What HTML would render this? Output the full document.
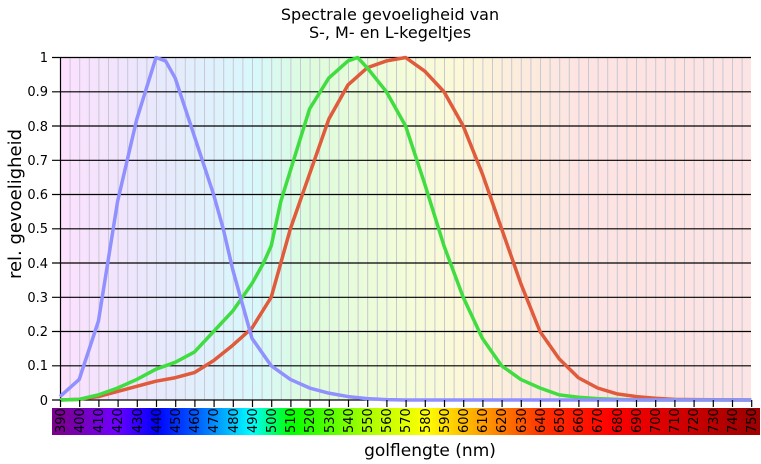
<!DOCTYPE html>
<html><head><meta charset="utf-8"><style>
body{margin:0;background:#fff}
svg{display:block;font-family:"DejaVu Sans","Liberation Sans",sans-serif}
</style></head><body>
<svg width="761" height="464" viewBox="0 0 761 464">
<defs>
<linearGradient id="bg" x1="60" x2="751" y1="0" y2="0" gradientUnits="userSpaceOnUse">
<stop offset="0" stop-color="#fde0fd"/>
<stop offset="0.14" stop-color="#e8e8fc"/>
<stop offset="0.28" stop-color="#d8f8fc"/>
<stop offset="0.36" stop-color="#dcfcdc"/>
<stop offset="0.5" stop-color="#f4fcd8"/>
<stop offset="0.58" stop-color="#fcf8d8"/>
<stop offset="0.66" stop-color="#fcecdc"/>
<stop offset="0.75" stop-color="#fde4e2"/>
<stop offset="1" stop-color="#fde4e4"/>
</linearGradient>
<linearGradient id="cb" x1="60" x2="751" y1="0" y2="0" gradientUnits="userSpaceOnUse">
<stop offset="0" stop-color="#7a0090"/>
<stop offset="0.08" stop-color="#7000ff"/>
<stop offset="0.139" stop-color="#0000ff"/>
<stop offset="0.2" stop-color="#0060ff"/>
<stop offset="0.278" stop-color="#00ffff"/>
<stop offset="0.333" stop-color="#00ff00"/>
<stop offset="0.45" stop-color="#b0ff00"/>
<stop offset="0.53" stop-color="#ffff00"/>
<stop offset="0.61" stop-color="#ffa000"/>
<stop offset="0.7" stop-color="#ff3000"/>
<stop offset="0.8" stop-color="#ff0000"/>
<stop offset="1" stop-color="#a00000"/>
</linearGradient>
</defs>
<text x="390" y="20" font-size="16" text-anchor="middle">Spectrale gevoeligheid van</text>
<text x="390" y="38" font-size="16" text-anchor="middle">S-, M- en L-kegeltjes</text>
<rect x="60" y="57" width="691" height="343" fill="url(#bg)"/>
<g transform="translate(60.5,0)" stroke="#c8c8d4">
<path d="M9.6 57V400M19.2 57V400M28.8 57V400M38.4 57V400M48 57V400M57.6 57V400M67.2 57V400M76.8 57V400M86.4 57V400M96 57V400M105.6 57V400M115.2 57V400M124.8 57V400M134.4 57V400M144 57V400M153.6 57V400M163.2 57V400M172.8 57V400M182.4 57V400M192 57V400M201.6 57V400M211.2 57V400M220.8 57V400M230.4 57V400M240 57V400M249.6 57V400M259.2 57V400M268.8 57V400M278.4 57V400M288 57V400M297.6 57V400M307.2 57V400M316.8 57V400M326.4 57V400M336 57V400M345.6 57V400M355.2 57V400M364.8 57V400M374.4 57V400M384 57V400M393.6 57V400M403.2 57V400M412.8 57V400M422.4 57V400M432 57V400M441.6 57V400M451.2 57V400M460.8 57V400M470.4 57V400M480 57V400M489.6 57V400M499.2 57V400M508.8 57V400M518.4 57V400M528 57V400M537.6 57V400M547.2 57V400M556.8 57V400M566.4 57V400M576 57V400M585.6 57V400M595.2 57V400M604.8 57V400M614.4 57V400M624 57V400M633.6 57V400M643.2 57V400M652.8 57V400M662.4 57V400M672 57V400M681.6 57V400"/>
</g>
<g stroke="#000" stroke-width="1.2">
<path d="M52 57.5H751M52 91.8H751M52 126H751M52 160.3H751M52 194.5H751M52 228.8H751M52 263H751M52 297.3H751M52 331.5H751M52 365.8H751M52 400H751M60.5 57V400"/>
</g>
<g font-size="13" text-anchor="end">
<text x="48" y="62">1</text><text x="48" y="96">0.9</text><text x="48" y="131">0.8</text><text x="48" y="165">0.7</text><text x="48" y="199">0.6</text><text x="48" y="233">0.5</text><text x="48" y="268">0.4</text><text x="48" y="302">0.3</text><text x="48" y="336">0.2</text><text x="48" y="370">0.1</text><text x="48" y="405">0</text>
</g>
<text transform="translate(21,204) rotate(-90)" font-size="18" text-anchor="middle">rel. gevoeligheid</text>
<g transform="translate(60,400) scale(1.92,-3.425)" fill="none" stroke-width="3.5" stroke-linejoin="round">
<polyline vector-effect="non-scaling-stroke" stroke="#e05a3c" points="0,0 10,0.2 20,1 30,2.5 40,4 50,5.5 60,6.5 70,8 80,11.5 90,16 100,21 110,30 115,40 120,50 125,58 130,66 140,82 150,92 160,97 170,99 180,100 190,96 200,90 210,80 220,66 230,50 240,34 250,20 260,12 270,6.5 280,3.5 290,1.8 300,1 310,0.5 320,0.2 330,0.1 360,0"/>
<polyline vector-effect="non-scaling-stroke" stroke="#40dd40" points="0,0 10,0.2 20,1.5 30,3.5 40,6 50,9 60,11 70,14 80,20 90,26 100,34 106,40 110,45 115,58 120,67 130,85 140,94 150,99 155,100 160,97 170,90 180,80 190,63 200,45 210,30 220,18 230,10 240,6 250,3.5 260,1.5 270,0.8 280,0.4 290,0.2 300,0 360,0"/>
<polyline vector-effect="non-scaling-stroke" stroke="#9090ff" points="0,1 10,6 20,23 30,58 40,82 50,100 55,99 60,94 70,77 80,60 85,50 90,38 100,18 110,10 120,6 130,3.5 140,2 150,1 160,0.4 170,0.1 180,0 360,0"/>
</g>
<rect x="52" y="408" width="708" height="27" fill="url(#cb)"/>
<g stroke="#000" stroke-width="1.2">
<path d="M60.5 400V407M79.7 400V407M98.9 400V407M118.1 400V407M137.3 400V407M156.5 400V407M175.7 400V407M194.9 400V407M214.1 400V407M233.3 400V407M252.5 400V407M271.7 400V407M290.9 400V407M310.1 400V407M329.3 400V407M348.5 400V407M367.7 400V407M386.9 400V407M406.1 400V407M425.3 400V407M444.5 400V407M463.7 400V407M482.9 400V407M502.1 400V407M521.3 400V407M540.5 400V407M559.7 400V407M578.9 400V407M598.1 400V407M617.3 400V407M636.5 400V407M655.7 400V407M674.9 400V407M694.1 400V407M713.3 400V407M732.5 400V407M751.7 400V407"/>
</g>
<g font-size="13" fill="#000">
<text transform="translate(65,433) rotate(-90)">390</text>
<text transform="translate(84,433) rotate(-90)">400</text>
<text transform="translate(103,433) rotate(-90)">410</text>
<text transform="translate(122,433) rotate(-90)">420</text>
<text transform="translate(142,433) rotate(-90)">430</text>
<text transform="translate(161,433) rotate(-90)">440</text>
<text transform="translate(180,433) rotate(-90)">450</text>
<text transform="translate(199,433) rotate(-90)">460</text>
<text transform="translate(218,433) rotate(-90)">470</text>
<text transform="translate(238,433) rotate(-90)">480</text>
<text transform="translate(257,433) rotate(-90)">490</text>
<text transform="translate(276,433) rotate(-90)">500</text>
<text transform="translate(295,433) rotate(-90)">510</text>
<text transform="translate(314,433) rotate(-90)">520</text>
<text transform="translate(334,433) rotate(-90)">530</text>
<text transform="translate(353,433) rotate(-90)">540</text>
<text transform="translate(372,433) rotate(-90)">550</text>
<text transform="translate(391,433) rotate(-90)">560</text>
<text transform="translate(410,433) rotate(-90)">570</text>
<text transform="translate(430,433) rotate(-90)">580</text>
<text transform="translate(449,433) rotate(-90)">590</text>
<text transform="translate(468,433) rotate(-90)">600</text>
<text transform="translate(487,433) rotate(-90)">610</text>
<text transform="translate(506,433) rotate(-90)">620</text>
<text transform="translate(526,433) rotate(-90)">630</text>
<text transform="translate(545,433) rotate(-90)">640</text>
<text transform="translate(564,433) rotate(-90)">650</text>
<text transform="translate(583,433) rotate(-90)">660</text>
<text transform="translate(602,433) rotate(-90)">670</text>
<text transform="translate(622,433) rotate(-90)">680</text>
<text transform="translate(641,433) rotate(-90)">690</text>
<text transform="translate(660,433) rotate(-90)">700</text>
<text transform="translate(679,433) rotate(-90)">710</text>
<text transform="translate(698,433) rotate(-90)">720</text>
<text transform="translate(718,433) rotate(-90)">730</text>
<text transform="translate(737,433) rotate(-90)">740</text>
<text transform="translate(756,433) rotate(-90)">750</text>
</g>
<text x="430" y="456" font-size="17" text-anchor="middle">golflengte (nm)</text>
</svg>
</body></html>
